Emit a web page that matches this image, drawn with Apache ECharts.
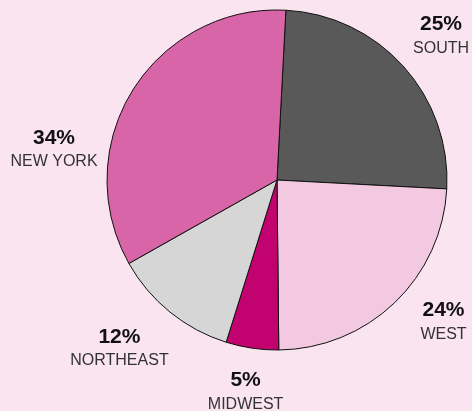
<!DOCTYPE html>
<html>
<head>
<meta charset="utf-8">
<script src="https://cdn.jsdelivr.net/npm/echarts@6/dist/echarts.min.js"></script>
<style>
  html, body { margin: 0; padding: 0; background: #f9e4ef; }
  #main { width: 472px; height: 411px; }
</style>
</head>
<body>
<div id="main"></div>
<script>
var regions = ['SOUTH', 'WEST', 'MIDWEST', 'NORTHEAST', 'NEW YORK'];
var shares = [25, 24, 5, 12, 34];
var colors = ['#595959', '#f2c9e1', '#c2036f', '#d6d6d6', '#d765a7'];

// pie geometry
var cx = 277, cy = 180, radius = 170, startAngle = 87;
// label placement: distance from centre and angular nudge off the slice middle
var labelDist = [218, 219, 215, 231, 225];
var labelTurn = [-0.8, 5.7, 0, -4, 24.1];

var total = shares.reduce(function (a, b) { return a + b; }, 0);
var acc = 0;
var midAngles = shares.map(function (v) {
  var m = startAngle - (acc + v / 2) / total * 360;
  acc += v;
  return m;
});

var chart = echarts.init(document.getElementById('main'));
chart.setOption({
  backgroundColor: '#f9e4ef',
  animation: false,
  series: [{
    type: 'pie',
    center: [cx, cy],
    radius: radius,
    startAngle: startAngle,
    clockwise: true,
    data: regions.map(function (r, i) {
      return { name: r, value: shares[i], itemStyle: { color: colors[i] } };
    }),
    itemStyle: { borderColor: '#111', borderWidth: 1 },
    label: {
      position: 'outside',
      width: 130,
      overflow: 'none',
      formatter: '{p|{c}%}\n{n|{b}}',
      rich: {
        p: { fontFamily: 'Liberation Sans', fontWeight: 'bold', fontSize: 21, color: '#111', align: 'center', lineHeight: 24 },
        n: { fontFamily: 'Liberation Sans', fontSize: 16, color: '#333', align: 'center', lineHeight: 24 }
      }
    },
    labelLine: { show: false },
    labelLayout: function (p) {
      var a = (midAngles[p.dataIndex] + labelTurn[p.dataIndex]) * Math.PI / 180;
      var d = labelDist[p.dataIndex];
      return {
        x: cx + d * Math.cos(a),
        y: cy - d * Math.sin(a),
        align: 'center',
        verticalAlign: 'middle'
      };
    },
    emphasis: { disabled: true }
  }]
});
</script>
</body>
</html>
